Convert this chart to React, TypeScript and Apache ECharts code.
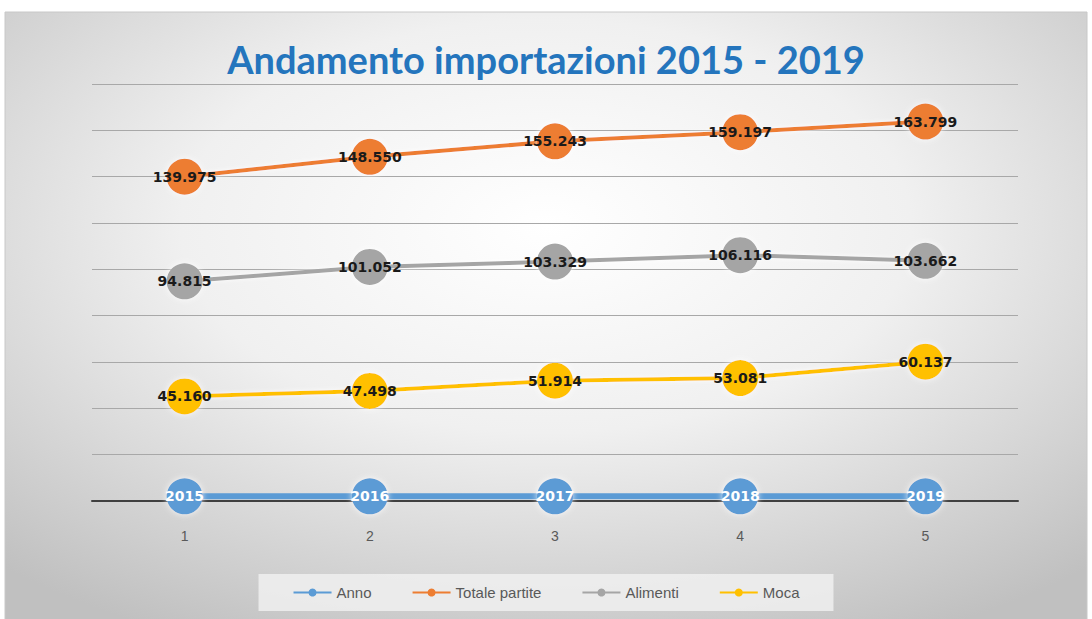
import React, { useEffect, useRef } from "react";
import * as echarts from "echarts";

const categories = ["1", "2", "3", "4", "5"];
const anno = [2015, 2016, 2017, 2018, 2019];
const totalePartite = [139975, 148550, 155243, 159197, 163799];
const alimenti = [94815, 101052, 103329, 106116, 103662];
const moca = [45160, 47498, 51914, 53081, 60137];

const fmt = (v: number) => String(v).replace(/\B(?=(\d{3})+(?!\d))/g, ".");

export default function App() {
  const ref = useRef<HTMLDivElement>(null);
  useEffect(() => {
    const chart = echarts.init(ref.current!, undefined, { renderer: "svg" });
    const mk = (name: string, data: number[], color: string, labelColor: string, isYear = false) => ({
      name,
      type: "line",
      data,
      symbol: "circle",
      symbolSize: 36,
      itemStyle: { color, shadowBlur: 6, shadowColor: "rgba(255,255,255,0.8)" },
      lineStyle: isYear
        ? { color, width: 6 }
        : { color, width: 4, shadowBlur: 4, shadowColor: "rgba(255,255,255,0.9)" },
      label: {
        show: true,
        position: "inside",
        color: labelColor,
        fontFamily: "DejaVu Sans",
        fontWeight: "bold",
        fontSize: 14,
        formatter: (p: any) => (isYear ? String(p.value) : fmt(p.value)),
      },
      emphasis: { disabled: true },
      z: 3,
    });
    chart.setOption({
      animation: false,
      graphic: [
        {
          type: "rect",
          shape: { x: 5, y: 12, width: 1082, height: 612 },
          style: {
            fill: new echarts.graphic.RadialGradient(0.5, 0.35, 0.75, [
              { offset: 0, color: "#ffffff" },
              { offset: 0.45, color: "#f0f0f0" },
              { offset: 1, color: "#c0c0c0" },
            ]),
            stroke: "#c8c8c8",
            lineWidth: 1,
          },
          z: -10,
          silent: true,
        },
      ],
      title: {
        text: "Andamento importazioni 2015 - 2019",
        left: "center",
        top: 35,
        textStyle: {
          fontFamily: "Lato",
          fontWeight: "bold",
          fontSize: 38,
          color: "#2475BD",
        },
      },
      legend: {
        bottom: 8,
        left: "center",
        itemWidth: 38,
        itemHeight: 10,
        itemGap: 40,
        padding: [11, 34],
        backgroundColor: "rgba(240,240,240,0.85)",
        textStyle: { fontFamily: "Liberation Sans", fontSize: 15, color: "#595959" },
        data: ["Anno", "Totale partite", "Alimenti", "Moca"],
      },
      grid: { left: 92, right: 74, top: 84, bottom: 118 },
      xAxis: {
        type: "category",
        data: categories,
        boundaryGap: true,
        axisLine: { lineStyle: { color: "#404040", width: 2 } },
        axisTick: { show: false },
        axisLabel: { margin: 28, fontFamily: "Liberation Sans", fontSize: 14, color: "#595959" },
      },
      yAxis: {
        type: "value",
        min: 0,
        max: 180000,
        interval: 20000,
        axisLabel: { show: false },
        axisLine: { show: false },
        axisTick: { show: false },
        splitLine: { lineStyle: { color: "#a8a8a8", width: 1 } },
      },
      series: [
        mk("Anno", anno, "#5B9BD5", "#ffffff", true),
        mk("Totale partite", totalePartite, "#ED7D31", "#1a1a1a"),
        mk("Alimenti", alimenti, "#A5A5A5", "#1a1a1a"),
        mk("Moca", moca, "#FFC000", "#1a1a1a"),
      ],
    });
    return () => chart.dispose();
  }, []);
  return (
    <div
      ref={ref}
      style={{ position: "absolute", left: 0, top: 0, width: 1092, height: 619 }}
    />
  );
}
